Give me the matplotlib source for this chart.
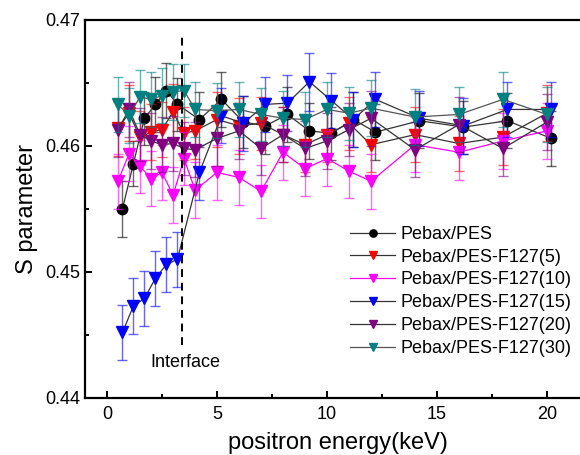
import matplotlib
matplotlib.use("Agg")
import matplotlib.pyplot as plt
from matplotlib.ticker import MultipleLocator, FormatStrFormatter

plt.rcParams["font.family"] = ["Liberation Sans", "DejaVu Sans"]
plt.rcParams["axes.linewidth"] = 1.6

# positron energy (keV); PES and F127(15) were measured at shifted energies
E_main = [0.5, 1.0, 1.5, 2.0, 2.5, 3.0, 3.5, 4.0, 5.0, 6.0, 7.0, 8.0, 9.0, 10.0,
          11.0, 12.0, 14.0, 16.0, 18.0, 20.0]
E_shift = [0.7, 1.2, 1.7, 2.2, 2.7, 3.2, 4.2, 5.2, 6.2, 7.2, 8.2, 9.2, 10.2, 11.2,
           12.2, 14.2, 16.2, 18.2, 20.2]

S_pes = [0.4550, 0.4586, 0.4622, 0.4633, 0.4644, 0.4633, 0.4621, 0.4637, 0.4619, 0.4616,
         0.4625, 0.4612, 0.4610, 0.4621, 0.4611, 0.4620, 0.4615, 0.4620, 0.4606]
S_f5 = [0.4614, 0.4626, 0.4607, 0.4611, 0.4613, 0.4627, 0.4610, 0.4612, 0.4621, 0.4616,
        0.4618, 0.4609, 0.4601, 0.4609, 0.4618, 0.4601, 0.4609, 0.4602, 0.4607, 0.4626]
S_f10 = [0.4572, 0.4594, 0.4584, 0.4574, 0.4579, 0.4561, 0.4590, 0.4565, 0.4579, 0.4575,
         0.4564, 0.4595, 0.4582, 0.4590, 0.4580, 0.4572, 0.4601, 0.4595, 0.4604, 0.4612]
S_f15 = [0.4452, 0.4473, 0.4479, 0.4495, 0.4506, 0.4510, 0.4579, 0.4624, 0.4618, 0.4633,
         0.4634, 0.4651, 0.4636, 0.4621, 0.4637, 0.4622, 0.4616, 0.4629, 0.4629]
S_f20 = [0.4613, 0.4629, 0.4609, 0.4604, 0.4601, 0.4602, 0.4598, 0.4597, 0.4606, 0.4612,
         0.4598, 0.4609, 0.4598, 0.4604, 0.4613, 0.4622, 0.4597, 0.4617, 0.4598, 0.4619]
S_f30 = [0.4633, 0.4624, 0.4639, 0.4637, 0.4640, 0.4643, 0.4644, 0.4629, 0.4628, 0.4629,
         0.4625, 0.4622, 0.4621, 0.4629, 0.4626, 0.4630, 0.4623, 0.4625, 0.4637, 0.4625]

err_pes = [0.0022, 0.0018, 0.0021, 0.0022, 0.0022, 0.0021, 0.0022, 0.0022, 0.0021, 0.0022,
           0.0022, 0.0022, 0.0021, 0.0022, 0.0022, 0.0022, 0.0021, 0.0022, 0.0022]
err_main = [0.0022, 0.0022, 0.0021, 0.0022, 0.0022, 0.0022, 0.0021, 0.0022, 0.0022, 0.0022,
            0.0021, 0.0022, 0.0022, 0.0022, 0.0021, 0.0022, 0.0022, 0.0022, 0.0022, 0.0022]
err_f15 = [0.0022, 0.0022, 0.0022, 0.0022, 0.0022, 0.0022, 0.0022, 0.0022, 0.0022, 0.0022,
           0.0022, 0.0023, 0.0022, 0.0022, 0.0022, 0.0022, 0.0022, 0.0022, 0.0022]

labels = ["Pebax/PES", "Pebax/PES-F127(5)", "Pebax/PES-F127(10)", "Pebax/PES-F127(15)",
          "Pebax/PES-F127(20)", "Pebax/PES-F127(30)"]
series = [(E_shift, S_pes, err_pes, "black", "o", "#333333"),
          (E_main, S_f5, err_main, "#ff0000", "v", "#333333"),
          (E_main, S_f10, err_main, "#ff00ff", "v", "#ff00ff"),
          (E_shift, S_f15, err_f15, "#0000ff", "v", "#333333"),
          (E_main, S_f20, err_main, "#800080", "v", "#333333"),
          (E_main, S_f30, err_main, "#008080", "v", "#555555")]

fig = plt.figure(figsize=(5.8, 4.55), dpi=100)
ax = fig.add_axes([0.1466, 0.1253, 0.8724, 0.8308])

for (x, y, e, c, m, lc), lab in zip(series, labels):
    ax.errorbar(x, y, yerr=e, fmt="none", ecolor=c, alpha=0.6, elinewidth=1.0,
                capsize=3.5, capthick=1.0)
    ax.plot(x, y, color=lc, lw=0.9, marker=m, markersize=8.5 if m == "v" else 7.5,
            markerfacecolor=c, markeredgecolor=c, label=lab)

ax.axvline(3.4, ymin=(0.4442 - 0.44) / 0.03, ymax=(0.4690 - 0.44) / 0.03,
           color="black", ls=(0, (4, 3)), lw=1.4)
ax.text(3.55, 0.4428, "Interface", ha="center", va="center", fontsize=13)

ax.set_xlim(-1, 22)
ax.set_ylim(0.44, 0.47)
ax.xaxis.set_major_locator(MultipleLocator(5))
ax.xaxis.set_minor_locator(MultipleLocator(2.5))
ax.yaxis.set_major_locator(MultipleLocator(0.01))
ax.yaxis.set_minor_locator(MultipleLocator(0.005))
ax.yaxis.set_major_formatter(FormatStrFormatter("%.2f"))
ax.tick_params(which="both", direction="in", top=False, right=False, labelsize=13, width=1.4)
ax.tick_params(which="major", length=5)
ax.tick_params(which="minor", length=3)
ax.tick_params(axis="x", which="major", pad=6)
ax.tick_params(axis="y", which="major", pad=3.5)
ax.spines["right"].set_visible(False)

ax.set_xlabel("positron energy(keV)", fontsize=17, labelpad=6)
ax.set_ylabel("S parameter", fontsize=17, labelpad=5)

ax.legend(loc="center left", bbox_to_anchor=(0.524, 0.282), frameon=False, fontsize=13,
          handlelength=2.5, handletextpad=0.3, labelspacing=0.32, borderpad=0,
          borderaxespad=0, markerscale=0.7)

fig.savefig("out.png", dpi=100)
